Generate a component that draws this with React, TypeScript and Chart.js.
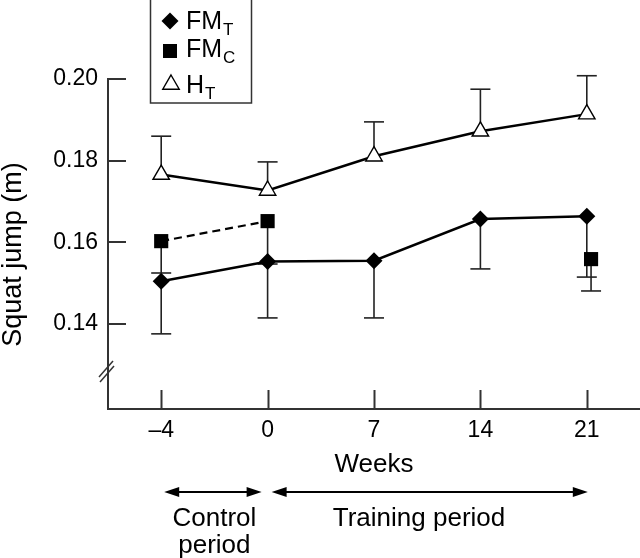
import React, { useEffect, useRef } from 'react';
import { Chart, registerables } from 'chart.js';

Chart.register(...registerables);

const FONT = '"Liberation Sans", Arial, Helvetica, sans-serif';

// ---- data ----
const weekLabels = ['–4', '0', '7', '14', '21'];
const fmT = [0.1505, 0.1553, 0.1555, 0.1657, 0.1664];
const fmTLower = [0.1376, 0.1415, 0.1415, 0.1535, 0.1515];
const fmC: (number | null)[] = [0.1603, 0.1652, null, null, 0.1559];
const fmCLower: (number | null)[] = [0.1525, 0.1547, null, null, 0.1481];
const hT = [0.1766, 0.1727, 0.1811, 0.1872, 0.1914];
const hTUpper = [0.186, 0.1797, 0.1895, 0.1975, 0.2008];
const yTickValues = [0.14, 0.16, 0.18, 0.2];
const Y_MIN = 0.1192;
const Y_MAX = 0.2;
const FMC_LAST_SHIFT = 0.04; // small horizontal jitter of the control point at week 21
const Y_BREAK_VALUE = 0.128;

const AXIS = '#333';
const INK = '#000';

function seg(ctx: CanvasRenderingContext2D, x1: number, y1: number, x2: number, y2: number) {
  ctx.beginPath();
  ctx.moveTo(x1, y1);
  ctx.lineTo(x2, y2);
  ctx.stroke();
}

function arrow(ctx: CanvasRenderingContext2D, x1: number, x2: number, y: number) {
  const hl = 15, hw = 5;
  ctx.lineWidth = 2;
  seg(ctx, x1 + 4, y, x2 - 4, y);
  ctx.beginPath();
  ctx.moveTo(x1, y);
  ctx.lineTo(x1 + hl, y - hw);
  ctx.lineTo(x1 + hl, y + hw);
  ctx.closePath();
  ctx.fill();
  ctx.beginPath();
  ctx.moveTo(x2, y);
  ctx.lineTo(x2 - hl, y - hw);
  ctx.lineTo(x2 - hl, y + hw);
  ctx.closePath();
  ctx.fill();
}

const errorSpecs = [
  { ds: 0, ends: fmTLower as (number | null)[] },
  { ds: 1, ends: fmCLower },
  { ds: 2, ends: hTUpper as (number | null)[] },
];

const decorPlugin = {
  id: 'decor',
  beforeDatasetsDraw(chart: any) {
    const ctx: CanvasRenderingContext2D = chart.ctx;
    const xs = chart.scales.x;
    const ys = chart.scales.y;
    ctx.save();
    // inward tick marks
    ctx.strokeStyle = AXIS;
    ctx.lineWidth = 2;
    yTickValues.forEach((v) => {
      const py = Math.round(ys.getPixelForValue(v));
      seg(ctx, xs.left, py, xs.left + 18, py);
    });
    weekLabels.forEach((_, i) => {
      const px = Math.round(xs.getPixelForValue(i)) + 0.5;
      seg(ctx, px, ys.bottom, px, ys.bottom - 19);
    });
    // error bars
    ctx.strokeStyle = '#222';
    ctx.lineWidth = 1.6;
    errorSpecs.forEach(({ ds, ends }) => {
      const meta = chart.getDatasetMeta(ds);
      meta.data.forEach((pt: any, i: number) => {
        const e = ends[i];
        if (e == null || pt.skip) return;
        const ey = ys.getPixelForValue(e);
        seg(ctx, pt.x, pt.y, pt.x, ey);
        seg(ctx, pt.x - 10, ey, pt.x + 10, ey);
      });
    });
    ctx.restore();
  },
  afterDraw(chart: any) {
    const ctx: CanvasRenderingContext2D = chart.ctx;
    const xs = chart.scales.x;
    const ys = chart.scales.y;
    ctx.save();
    ctx.fillStyle = INK;
    ctx.strokeStyle = INK;

    // axis break marks
    const by = ys.getPixelForValue(Y_BREAK_VALUE);
    const bx = xs.left;
    ctx.strokeStyle = AXIS;
    ctx.lineWidth = 1.5;
    seg(ctx, bx - 9, by + 4, bx + 5, by - 12);
    seg(ctx, bx - 8, by + 9, bx + 6, by - 7);

    // y title
    ctx.fillStyle = INK;
    ctx.save();
    ctx.translate(21, 254.5);
    ctx.rotate(-Math.PI / 2);
    ctx.font = `27px ${FONT}`;
    ctx.textAlign = 'center';
    ctx.textBaseline = 'alphabetic';
    ctx.fillText('Squat jump (m)', 0, 0);
    ctx.restore();

    // x title
    ctx.font = `26px ${FONT}`;
    ctx.textAlign = 'center';
    ctx.textBaseline = 'alphabetic';
    ctx.fillText('Weeks', (xs.left + xs.right) / 2, 472);

    // period arrows
    const p0 = xs.getPixelForValue(0);
    const p1 = xs.getPixelForValue(1);
    const p4 = xs.getPixelForValue(4);
    ctx.strokeStyle = INK;
    arrow(ctx, p0 + 3, p1 - 6, 492);
    arrow(ctx, p1 + 4, p4 + 1, 492);
    ctx.fillText('Control', (p0 + p1) / 2, 526);
    ctx.fillText('period', (p0 + p1) / 2, 553);
    ctx.fillText('Training period', 419, 526);

    // legend box
    ctx.strokeStyle = AXIS;
    ctx.lineWidth = 1.5;
    ctx.strokeRect(150.5, -2, 101, 105);

    // legend markers
    ctx.fillStyle = INK;
    // diamond
    ctx.beginPath();
    ctx.moveTo(170, 21 - 8.5);
    ctx.lineTo(170 + 8.5, 21);
    ctx.lineTo(170, 21 + 8.5);
    ctx.lineTo(170 - 8.5, 21);
    ctx.closePath();
    ctx.fill();
    // square
    ctx.fillRect(163, 44, 14, 14);
    // triangle
    const tr = 9.5, tcx = 171, tcy = 84.5;
    ctx.beginPath();
    ctx.moveTo(tcx, tcy - tr);
    ctx.lineTo(tcx + tr * Math.sin((2 * Math.PI) / 3), tcy + tr / 2);
    ctx.lineTo(tcx - tr * Math.sin((2 * Math.PI) / 3), tcy + tr / 2);
    ctx.closePath();
    ctx.fillStyle = '#fff';
    ctx.fill();
    ctx.strokeStyle = INK;
    ctx.lineWidth = 1.4;
    ctx.stroke();

    // legend texts with subscripts
    ctx.fillStyle = INK;
    ctx.textAlign = 'left';
    const rows = [
      { main: 'FM', sub: 'T', base: 29 },
      { main: 'FM', sub: 'C', base: 57 },
      { main: 'H', sub: 'T', base: 93 },
    ];
    rows.forEach((r) => {
      ctx.font = `25px ${FONT}`;
      ctx.fillText(r.main, 186, r.base);
      const w = ctx.measureText(r.main).width;
      ctx.font = `17px ${FONT}`;
      ctx.fillText(r.sub, 186 + w + 1, r.base + 6);
    });

    ctx.restore();
  },
};

export default function App() {
  const ref = useRef<HTMLCanvasElement | null>(null);
  useEffect(() => {
    if (!ref.current) return;
    const chart = new Chart(ref.current, {
      type: 'line',
      data: {
        datasets: [
          {
            label: 'FMT',
            data: fmT.map((v, i) => ({ x: i, y: v })),
            borderColor: INK,
            backgroundColor: INK,
            borderWidth: 2.5,
            pointStyle: 'rectRot',
            pointRadius: 8.5,
            pointBorderWidth: 0,
            pointBackgroundColor: INK,
            clip: false as any,
          },
          {
            label: 'FMC',
            data: fmC.map((v, i) => ({ x: i === fmC.length - 1 ? i + FMC_LAST_SHIFT : i, y: v })) as any,
            borderColor: INK,
            backgroundColor: INK,
            borderWidth: 2.2,
            borderDash: [8, 5],
            pointStyle: 'rect',
            pointRadius: 10,
            pointBorderWidth: 0,
            pointBackgroundColor: INK,
            spanGaps: false,
            clip: false as any,
          },
          {
            label: 'HT',
            data: hT.map((v, i) => ({ x: i, y: v })),
            borderColor: INK,
            backgroundColor: '#fff',
            borderWidth: 2.5,
            pointStyle: 'triangle',
            pointRadius: 9.5,
            pointBorderWidth: 1.4,
            pointBorderColor: INK,
            pointBackgroundColor: '#fff',
            clip: false as any,
          },
        ],
      },
      options: {
        responsive: false,
        animation: false,
        events: [],
        layout: { autoPadding: false, padding: { left: 0, top: 79, right: 0, bottom: 0 } },
        plugins: {
          legend: { display: false },
          tooltip: { enabled: false },
        },
        scales: {
          x: {
            type: 'linear',
            min: -0.5,
            max: 4.5,
            grid: { display: false, drawTicks: false },
            border: { display: true, color: AXIS, width: 2 },
            afterBuildTicks: (s: any) => {
              s.ticks = weekLabels.map((_, i) => ({ value: i }));
            },
            afterFit: (s: any) => {
              s.height = 149;
              s.paddingLeft = 0;
              s.paddingRight = 0;
            },
            ticks: {
              padding: 8,
              color: INK,
              font: { size: 23, family: FONT },
              maxRotation: 0,
              autoSkip: false,
              callback: (v: any) => weekLabels[Math.round(Number(v))] ?? '',
            },
          },
          y: {
            type: 'linear',
            min: Y_MIN,
            max: Y_MAX,
            grid: { display: false, drawTicks: false },
            border: { display: true, color: AXIS, width: 2 },
            afterBuildTicks: (s: any) => {
              s.ticks = yTickValues.map((v) => ({ value: v }));
            },
            afterFit: (s: any) => {
              s.width = 108;
              s.paddingTop = 0;
              s.paddingBottom = 0;
            },
            ticks: {
              padding: 10,
              color: INK,
              font: { size: 23, family: FONT },
              callback: (v: any) => Number(v).toFixed(2),
            },
          },
        },
      },
      plugins: [decorPlugin],
    } as any);
    return () => chart.destroy();
  }, []);
  return (
    <div style={{ position: 'absolute', left: 0, top: 0, width: 640, height: 558, background: '#fff' }}>
      <canvas ref={ref} width={640} height={558} style={{ display: 'block' }} />
    </div>
  );
}
